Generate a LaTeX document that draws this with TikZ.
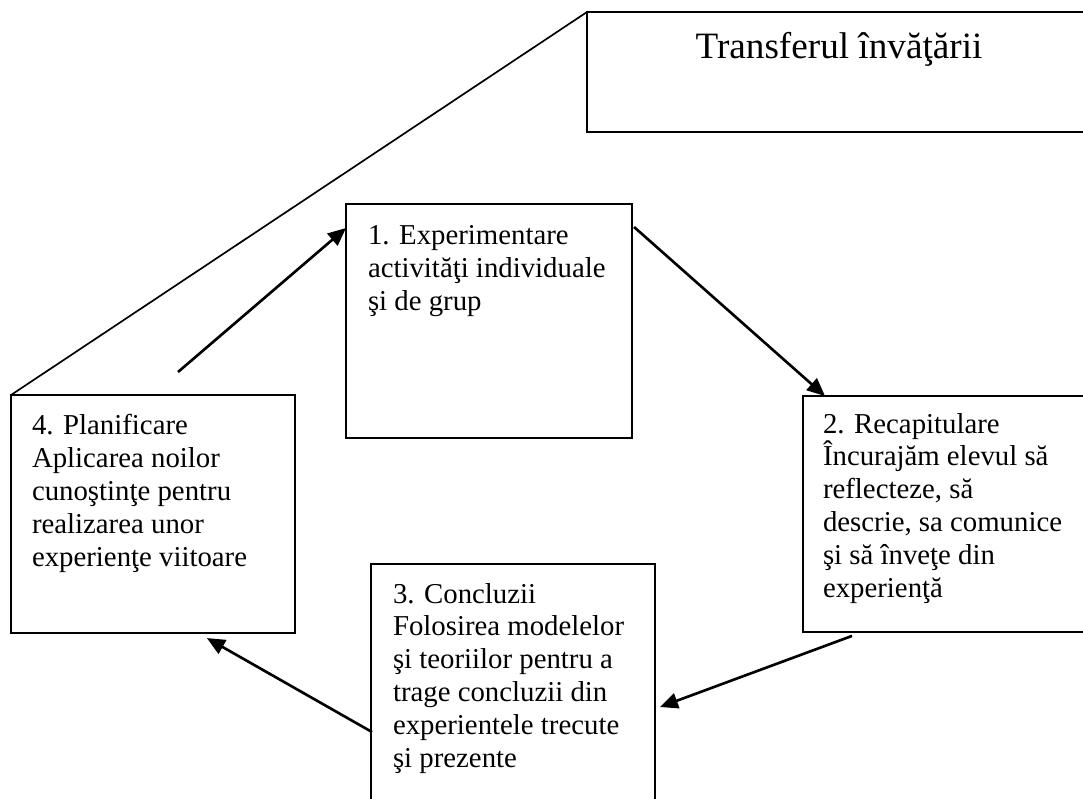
\documentclass[tikz,border=0pt]{standalone}
\usepackage{fontspec}
\setmainfont{Liberation Serif}
\usetikzlibrary{arrows.meta,calc}
\begin{document}
\begin{tikzpicture}[x=0.4167pt,y=-0.4167pt,
  box/.style={draw, line width=0.8pt, anchor=north west, inner sep=0pt, outer sep=0pt},
  boxtext/.style={anchor=north west, inner sep=0pt, outer sep=0pt, align=left,
    font=\fontsize{12}{13.75}\selectfont},
  link/.style={line width=1.1pt, -{Triangle[length=7.5pt,width=6.5pt]}},
  rim/.style={line width=0.7pt}]
\clip (0,0) rectangle (1083,798);
\fill[white] (0,0) rectangle (1083,798);

% title box, running past the right margin
\node[box, minimum width=213.8pt, minimum height=50pt] (T) at (587,12) {};
\node[anchor=base, inner sep=0pt, font=\fontsize{15.5}{18}\selectfont] (title) at (839,58) {Transferul învăţării};

% the four stages of the cycle
\node[box, minimum width=119.2pt, minimum height=97.5pt] (b1) at (346,204) {};
\node[box, minimum width=118.75pt, minimum height=98.3pt] (b2) at (803,396) {};
\node[box, minimum width=118.3pt, minimum height=106.7pt] (b3) at (371,564) {};
\node[box, minimum width=118.3pt, minimum height=99.2pt] (b4) at (11,395) {};

\node[boxtext] (t1) at (368,225) {1. Experimentare\\activităţi individuale\\şi de grup};
\node[boxtext] (t2) at (823,413) {2. Recapitulare\\Încurajăm elevul să\\reflecteze, să\\descrie, sa comunice\\şi să înveţe din\\experienţă};
\node[boxtext] (t3) at (393,583) {3. Concluzii\\Folosirea modelelor\\şi teoriilor pentru a\\trage concluzii din\\experientele trecute\\şi prezente};
\node[boxtext] (t4) at (32,414) {4. Planificare\\Aplicarea noilor\\cunoştinţe pentru\\realizarea unor\\experienţe viitoare};

% roof line joining the title box to stage 4
\draw[rim] (T.north west) -- (b4.north west);

% cycle arrows
\coordinate (s1) at (178,372);
\draw[link] (s1) -- ($(b1.north west)+(0,24)$);
\draw[link] ($(b1.north east)+(2,23)$) -- ($(b2.north west)+(22,0)$);
\draw[link] ($(b2.south west)+(49,4)$) -- ($(b3.north east)+(5,143)$);
\draw[link] ($(b3.north west)+(1,168)$) -- ($(b4.south east)+(-88,5)$);
\end{tikzpicture}
\end{document}
